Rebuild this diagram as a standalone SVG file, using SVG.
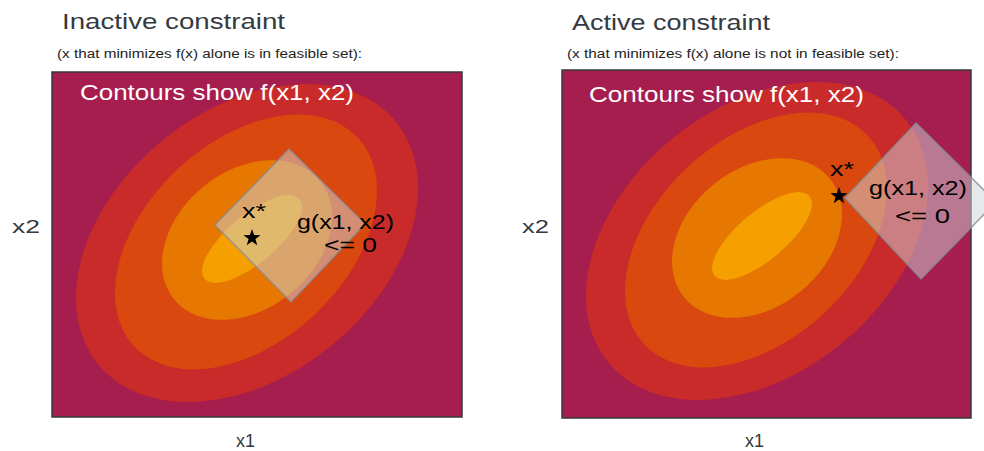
<svg xmlns="http://www.w3.org/2000/svg" width="984" height="451" viewBox="0 0 984 451">
<style>
.t{font-family:"Liberation Sans","DejaVu Sans",sans-serif;}
.title{font-size:22px;fill:#343a40;}
.sub{font-size:12px;fill:#1e1e1e;}
.wh{font-size:22px;fill:#ffffff;}
.lbl{font-size:20px;fill:#000000;}
.ax{font-size:19px;fill:#343a40;}
.panel{fill:#a61e4d;stroke:#343a40;stroke-width:1.5;}
.c1{fill:#c92a2a;}
.c2{fill:#d9480f;}
.c3{fill:#e67700;}
.c4{fill:#f59f00;}
.con{fill:#ced4da;fill-opacity:0.5;stroke:#868e96;stroke-opacity:0.8;stroke-width:1.5;}
</style>
<defs>
<path id="star" d="M0,-10 L2.35,-3.24 L9.51,-3.09 L3.8,1.24 L5.88,8.09 L0,4 L-5.88,8.09 L-3.8,1.24 L-9.51,-3.09 L-2.35,-3.24 Z" fill="#000"/>
</defs>
<rect width="984" height="451" fill="#ffffff"/>

<g id="inactive">
<text class="t title" x="62" y="29" textLength="223" lengthAdjust="spacingAndGlyphs">Inactive constraint</text>
<text class="t sub" x="57" y="58" textLength="305" lengthAdjust="spacingAndGlyphs">(x that minimizes f(x) alone is in feasible set):</text>
<rect class="panel" x="52" y="72" width="410" height="345"/>
<ellipse class="c1" cx="0" cy="0" rx="192" ry="133" transform="translate(247 243) rotate(-39)"/>
<ellipse class="c2" cx="0" cy="0" rx="153" ry="100" transform="translate(246 242) rotate(-43)"/>
<ellipse class="c3" cx="0" cy="0" rx="94" ry="69" transform="translate(247 240) rotate(-39)"/>
<ellipse class="c4" cx="0" cy="0" rx="62" ry="24" transform="translate(252 239) rotate(-40)"/>
<text class="t wh" x="80" y="100" textLength="274" lengthAdjust="spacingAndGlyphs">Contours show f(x1, x2)</text>
<text class="t ax" x="12" y="233" textLength="28" lengthAdjust="spacingAndGlyphs">x2</text>
<text class="t ax" x="236" y="447" textLength="19" lengthAdjust="spacingAndGlyphs">x1</text>
</g>
<g id="constraint-left">
<polygon class="con" points="289,149 365,224 291,302 215,225"/>
<text class="t lbl" x="297" y="229" textLength="97" lengthAdjust="spacingAndGlyphs">g(x1, x2)</text>
<text class="t lbl" x="324" y="252" textLength="53" lengthAdjust="spacingAndGlyphs">&lt;= 0</text>
</g>
<g id="opt-left">
<use href="#star" transform="translate(252 238) scale(0.9)"/>
<text class="t lbl" x="242" y="218" textLength="24" lengthAdjust="spacingAndGlyphs">x*</text>
</g>

<g id="active">
<text class="t title" x="572" y="30" textLength="198" lengthAdjust="spacingAndGlyphs">Active constraint</text>
<text class="t sub" x="567" y="58" textLength="332" lengthAdjust="spacingAndGlyphs">(x that minimizes f(x) alone is not in feasible set):</text>
<rect class="panel" x="562" y="70" width="409" height="348"/>
<ellipse class="c1" cx="0" cy="0" rx="192" ry="133" transform="translate(757 241) rotate(-39)"/>
<ellipse class="c2" cx="0" cy="0" rx="153" ry="100" transform="translate(756 240) rotate(-43)"/>
<ellipse class="c3" cx="0" cy="0" rx="94" ry="69" transform="translate(757 238) rotate(-39)"/>
<ellipse class="c4" cx="0" cy="0" rx="62" ry="24" transform="translate(762 236) rotate(-40)"/>
<text class="t wh" x="589" y="102" textLength="275" lengthAdjust="spacingAndGlyphs">Contours show f(x1, x2)</text>
<text class="t ax" x="522" y="233" textLength="27" lengthAdjust="spacingAndGlyphs">x2</text>
<text class="t ax" x="745" y="447" textLength="19" lengthAdjust="spacingAndGlyphs">x1</text>
</g>
<g id="constraint-right">
<polygon class="con" points="916,123 996,202 921,279 845,198"/>
<text class="t lbl" x="869" y="195" textLength="98" lengthAdjust="spacingAndGlyphs">g(x1, x2)</text>
<text class="t lbl" x="895" y="223" textLength="55" lengthAdjust="spacingAndGlyphs">&lt;= 0</text>
</g>
<g id="opt-right">
<use href="#star" transform="translate(839 196) scale(0.9)"/>
<text class="t lbl" x="830" y="176" textLength="24" lengthAdjust="spacingAndGlyphs">x*</text>
</g>
<g id="connectors"></g>
</svg>
